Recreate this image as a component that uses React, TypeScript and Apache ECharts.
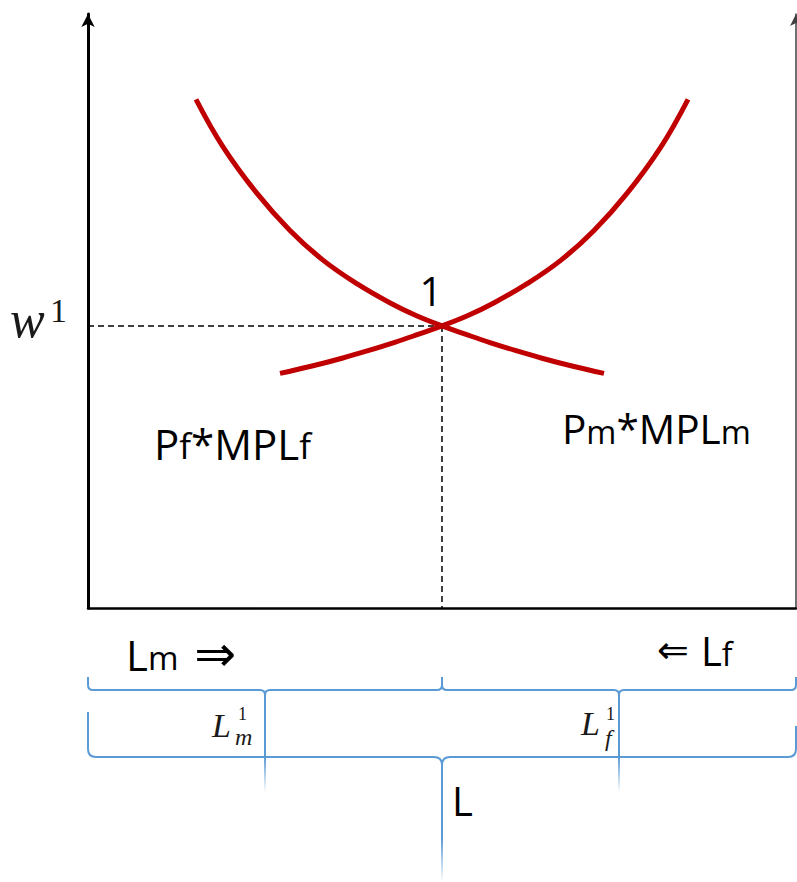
import React, { useEffect, useRef } from "react";
import * as echarts from "echarts";

// ---- data (value space 0..100 on both axes) ----
const pfCurveX = [15.25, 19.07, 23.87, 28.53, 33.19, 38.03, 42.69, 46.33, 50.0, 53.39, 56.78, 60.45, 64.12, 68.5, 72.88];
const pfCurveY = [85.64, 77.64, 69.8, 63.57, 58.57, 54.56, 51.35, 49.24, 47.49, 46.06, 44.68, 43.32, 42.05, 40.69, 39.49];
const pmCurveX = [27.12, 31.5, 35.88, 39.55, 43.22, 46.61, 50.0, 53.67, 57.31, 61.97, 66.81, 71.47, 76.13, 80.93, 84.75];
const pmCurveY = [39.49, 40.69, 42.05, 43.32, 44.68, 46.06, 47.49, 49.24, 51.35, 54.56, 58.57, 63.57, 69.8, 77.64, 85.64];
const equilibriumL = 50;
const equilibriumW = 47.49;
const laborMin = 0;
const laborMax = 100;
const Lm1 = 25;
const Lf1 = 75;
// braces: start, end, tip, row
const braceStarts = [laborMin, equilibriumL, laborMin];
const braceEnds = [equilibriumL, laborMax, laborMax];
const braceTips = [Lm1, Lf1, equilibriumL];
const braceRows = [0, 0, 1];

const RED = "#c00000";
const BLUE = "#5b9bd5";
const sansFont = '"Open Sans", "Noto Sans", sans-serif';
const arrowFont = '"DejaVu Sans", sans-serif';
const mathFont = '"Liberation Serif", "DejaVu Serif", serif';
const MATH_INK = "#1a1a1a";

function zip(xs: number[], ys: number[]) {
  return xs.map((x, i) => [x, ys[i]]);
}

function textEl(x: number, y: number, text: string, extra: any, align = "left") {
  return {
    type: "text",
    x,
    y,
    style: {
      text,
      fill: "#000",
      align,
      textAlign: align,
      verticalAlign: "middle",
      textVerticalAlign: "middle",
      ...extra,
    },
  };
}

export default function App() {
  const ref = useRef<HTMLDivElement>(null);
  useEffect(() => {
    if (!ref.current) return;
    const chart = echarts.init(ref.current, undefined, { renderer: "svg" });
    const braceData = braceStarts.map((s, i) => [s, braceEnds[i], braceTips[i], braceRows[i]]);

    const renderBrace = (params: any, api: any) => {
      const x1 = api.coord([api.value(0), 0])[0];
      const x2 = api.coord([api.value(1), 0])[0];
      const xm = api.coord([api.value(2), 0])[0];
      const y0 = api.coord([0, 0])[1];
      const row = api.value(3);
      let yLine, yTopL, yTopR, r, tipSolid, tipEnd;
      if (row === 0) {
        yLine = y0 + 82;
        yTopL = y0 + 69;
        yTopR = y0 + 69;
        r = 5;
        tipSolid = y0 + 149;
        tipEnd = y0 + 184;
      } else {
        yLine = y0 + 149;
        yTopL = y0 + 104;
        yTopR = y0 + 118;
        r = 8;
        tipSolid = y0 + 230;
        tipEnd = y0 + 274;
      }
      const d =
        `M ${x1} ${yTopL} L ${x1} ${yLine - r} Q ${x1} ${yLine} ${x1 + r} ${yLine} ` +
        `L ${xm - r} ${yLine} Q ${xm} ${yLine} ${xm} ${yLine + r} L ${xm} ${tipSolid} ` +
        `M ${xm} ${yLine + r} Q ${xm} ${yLine} ${xm + r} ${yLine} ` +
        `L ${x2 - r} ${yLine} Q ${x2} ${yLine} ${x2} ${yLine - r} L ${x2} ${yTopR}`;
      return {
        type: "group",
        children: [
          {
            type: "path",
            shape: { pathData: d },
            style: { fill: "none", stroke: BLUE, lineWidth: 2 },
          },
          {
            type: "line",
            shape: { x1: xm, y1: tipSolid, x2: xm, y2: tipEnd },
            style: {
              stroke: new echarts.graphic.LinearGradient(
                xm,
                tipSolid,
                xm,
                tipEnd,
                [
                  { offset: 0, color: "rgba(91,155,213,1)" },
                  { offset: 1, color: "rgba(91,155,213,0)" },
                ],
                true
              ),
              lineWidth: 2,
            },
          },
        ],
      };
    };

    const option: any = {
      animation: false,
      grid: { left: 88, right: 1, top: 14, bottom: 274, containLabel: false },
      xAxis: {
        type: "value",
        min: laborMin,
        max: laborMax,
        axisLine: { show: true, onZero: false, lineStyle: { color: "#000", width: 2.5 } },
        axisTick: { show: false },
        axisLabel: { show: false },
        splitLine: { show: false },
      },
      yAxis: [
        {
          type: "value",
          min: 0,
          max: 100,
          position: "left",
          axisLine: {
            show: true,
            onZero: false,
            symbol: ["none", "arrow"],
            symbolSize: [10, 13],
            lineStyle: { color: "#000", width: 3 },
          },
          axisTick: { show: false },
          axisLabel: { show: false },
          splitLine: { show: false },
        },
        {
          type: "value",
          min: 0,
          max: 100,
          position: "right",
          axisLine: {
            show: true,
            onZero: false,
            symbol: ["none", "arrow"],
            symbolSize: [9, 12],
            lineStyle: { color: "#404040", width: 1.5 },
          },
          axisTick: { show: false },
          axisLabel: { show: false },
          splitLine: { show: false },
        },
      ],
      series: [
        {
          name: "w1 level",
          type: "line",
          data: [
            [laborMin, equilibriumW],
            [equilibriumL, equilibriumW],
          ],
          symbol: "none",
          lineStyle: { color: "#000", width: 1.5, type: [6, 4] },
          z: 1,
        },
        {
          name: "L1 level",
          type: "line",
          data: [
            [equilibriumL, equilibriumW],
            [equilibriumL, 0],
          ],
          symbol: "none",
          lineStyle: { color: "#000", width: 1.5, type: [6, 4] },
          z: 1,
        },
        {
          name: "Pf*MPLf",
          type: "line",
          data: zip(pfCurveX, pfCurveY),
          smooth: 0.4,
          symbol: "none",
          lineStyle: { color: RED, width: 5, cap: "butt" },
          z: 3,
        },
        {
          name: "Pm*MPLm",
          type: "line",
          data: zip(pmCurveX, pmCurveY),
          smooth: 0.4,
          symbol: "none",
          lineStyle: { color: RED, width: 5, cap: "butt" },
          z: 3,
        },
        {
          name: "braces",
          type: "custom",
          clip: false,
          data: braceData,
          encode: { x: [0, 1, 2], y: 3 },
          renderItem: renderBrace,
          silent: true,
          z: 2,
        },
      ],
      graphic: [
        // w^1
        textEl(10, 319.5, "w", { font: `italic 52px ${mathFont}`, fill: MATH_INK }),
        textEl(50, 310.5, "1", { font: `34px ${mathFont}`, fill: MATH_INK }),
        // equilibrium point label
        textEl(431, 290.5, "1", { font: `40px ${sansFont}` }, "center"),
        // curve labels
        textEl(154, 443, "{a|P}{b|f}{a|*MPL}{b|f}", {
          rich: {
            a: { fontFamily: sansFont, fontSize: 42, fill: "#000", color: "#000" },
            b: { fontFamily: sansFont, fontSize: 35, fill: "#000", color: "#000", padding: [5, 0, 0, 0] },
          },
        }),
        textEl(562, 428.5, "{a|P}{b|m}{a|*MPL}{b|m}", {
          rich: {
            a: { fontFamily: sansFont, fontSize: 40.5, fill: "#000", color: "#000" },
            b: { fontFamily: sansFont, fontSize: 32.5, fill: "#000", color: "#000", padding: [6, 0, 0, 0] },
          },
        }),
        // direction labels
        textEl(126, 654, "{a|L}{b|m}{c| ⇒}", {
          rich: {
            a: { fontFamily: sansFont, fontSize: 42, fill: "#000", color: "#000" },
            b: { fontFamily: sansFont, fontSize: 33, fill: "#000", color: "#000", padding: [7, 0, 0, 0] },
            c: { fontFamily: arrowFont, fontSize: 50, fill: "#000", color: "#000" },
          },
        }),
        textEl(657, 650, "{c|⇐ }{a|L}{b|f}", {
          rich: {
            a: { fontFamily: sansFont, fontSize: 40, fill: "#000", color: "#000" },
            b: { fontFamily: sansFont, fontSize: 32, fill: "#000", color: "#000", padding: [6, 0, 0, 0] },
            c: { fontFamily: arrowFont, fontSize: 38, fill: "#000", color: "#000" },
          },
        }),
        // L_m^1
        textEl(212, 725.5, "L", { font: `italic 34px ${mathFont}`, fill: MATH_INK }),
        textEl(238, 713.9, "1", { font: `18px ${mathFont}`, fill: MATH_INK }),
        textEl(235, 736.9, "m", { font: `italic 24px ${mathFont}`, fill: MATH_INK }),
        // L_f^1
        textEl(581, 723.5, "L", { font: `italic 34px ${mathFont}`, fill: MATH_INK }),
        textEl(606, 713.9, "1", { font: `18px ${mathFont}`, fill: MATH_INK }),
        textEl(605, 737.9, "f", { font: `italic 24px ${mathFont}`, fill: MATH_INK }),
        // total L
        textEl(452, 800.5, "L", { font: `40px ${sansFont}` }),
      ],
    };
    chart.setOption(option);
    return () => chart.dispose();
  }, []);
  return (
    <div
      ref={ref}
      style={{ position: "absolute", left: 0, top: 0, width: 797, height: 882, background: "#fff" }}
    />
  );
}
